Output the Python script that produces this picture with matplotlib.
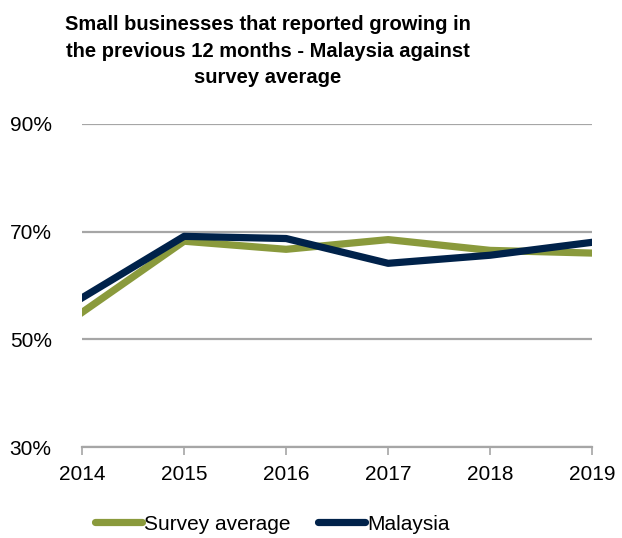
import matplotlib.pyplot as plt
from matplotlib.ticker import FuncFormatter

plt.rcParams['font.family'] = ['Liberation Sans', 'DejaVu Sans']

years = [2014, 2015, 2016, 2017, 2018, 2019]
survey_avg = [55.0, 68.2, 66.7, 68.5, 66.5, 66.0]
malaysia = [57.7, 69.1, 68.7, 64.1, 65.6, 68.0]

green = '#8a9a3c'
navy = '#00224a'

fig = plt.figure(figsize=(6.22, 5.38), dpi=100)
ax = fig.add_axes([0.132, 0.169, 0.820, 0.601])

ax.plot(years, survey_avg, color=green, lw=5.2, label='Survey average', zorder=3)
ax.plot(years, malaysia, color=navy, lw=5.2, label='Malaysia', zorder=4)

ax.set_xlim(2014, 2019)
ax.set_ylim(30, 90)
ax.set_yticks([30, 50, 70, 90])
ax.yaxis.set_major_formatter(FuncFormatter(lambda v, p: f'{v:.0f}%'))
ax.set_xticks(years)
ax.grid(axis='y', color='#a6a6a6', lw=1.6, zorder=1)

for s in ['top', 'right', 'left']:
    ax.spines[s].set_visible(False)
ax.spines['bottom'].set_color('#a6a6a6')
ax.spines['bottom'].set_linewidth(1.6)
ax.tick_params(axis='x', direction='out', length=6, width=1.2, color='#a6a6a6',
               labelsize=15, pad=7)
ax.tick_params(axis='y', length=0, labelsize=15, pad=0)
for t in ax.get_yticklabels():
    t.set_horizontalalignment('left')
    t.set_x(-0.132 / 0.820 + 0.019)

fig.text(0.431, 0.972, 'Small businesses that reported growing in\n'
         'the previous 12 months - Malaysia against\nsurvey average',
         ha='center', va='top', fontsize=14.5, fontweight='bold', linespacing=1.5)

leg = ax.legend(loc='center', bbox_to_anchor=(0.373, -0.238), ncol=2,
                frameon=False, fontsize=15, handlelength=2.25, handletextpad=0.1,
                columnspacing=1.35, borderpad=0)
for h in leg.get_lines():
    h.set_solid_capstyle('round')

fig.savefig('out.png', dpi=100)
